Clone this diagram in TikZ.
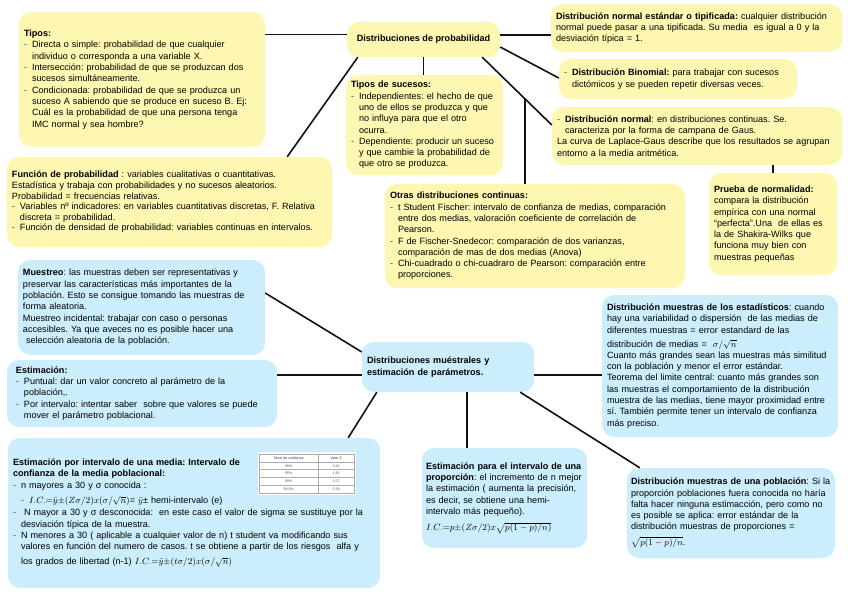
\documentclass[tikz,border=0pt]{standalone}
\usepackage{fontspec}
\setmainfont{Liberation Sans}
\usepackage[table]{xcolor}
\usepackage{amsmath}
\usetikzlibrary{calc}
\definecolor{MapaYellow}{HTML}{FEF7B1}
\definecolor{MapaBlue}{HTML}{CCEEFC}
\definecolor{MapaInk}{HTML}{111111}
\definecolor{MapaHead}{HTML}{1F3864}
\newcommand{\guion}{\makebox[8pt][l]{\textcolor{MapaInk!75}{-}}}
\newcommand{\sangria}{\hspace*{8pt}}

\begin{document}
\begin{tikzpicture}[x=1pt, y=-1pt,
    link/.style={line width=1.6pt, draw=MapaInk},
    ybox/.style={rounded corners=12pt, fill=MapaYellow, align=left, inner xsep=5pt,
      font=\fontsize{9.1}{11.3}\selectfont\frenchspacing},
    bbox/.style={ybox, fill=MapaBlue}
  ]
    \useasboundingbox[fill=white] (0,0) rectangle (848,599);

    % distribuciones de probabilidad
    \node[ybox, align=center, minimum width=153, minimum height=35] (probab) at (423.5,39.5)
      {\textbf{Distribuciones de probabilidad}};
    \node[ybox, minimum width=246, minimum height=135, text width=236] (tipos) at (142,79.5)
      {\textbf{Tipos:}\\
       \guion Directa o simple: probabilidad de que cualquier\\
       \sangria individuo o corresponda a una variable X.\\
       \guion Intersección: probabilidad de que se produzcan dos\\
       \sangria sucesos simultáneamente.\\
       \guion Condicionada: probabilidad de que se produzca un\\
       \sangria suceso A sabiendo que se produce en suceso B. Ej:\\
       \sangria Cuál es la probabilidad de que una persona tenga\\
       \sangria IMC normal y sea hombre?};
    \node[ybox, minimum width=291, minimum height=48, text width=281] (estandar) at (696.5,28)
      {\textbf{Distribución normal estándar o tipificada:} cualquier distribución\\
       normal puede pasar a una tipificada. Su media\ \ es igual a 0 y la\\
       desviación típica = 1.};
    \node[ybox, minimum width=238, minimum height=40, text width=228] (binom) at (678,79)
      {\guion\textbf{Distribución Binomial:} para trabajar con sucesos\\
       \sangria dictómicos y se pueden repetir diversas veces.};
    \node[ybox, minimum width=290, minimum height=58, text width=280] (normal) at (697,136)
      {\guion\textbf{Distribución normal}: en distribuciones continuas. Se.\\
       \sangria caracteriza por la forma de campana de Gaus.\\
       La curva de Laplace-Gaus describe que los resultados se agrupan\\
       entorno a la media aritmética.};
    \node[ybox, minimum width=157, minimum height=100, text width=147] (sucesos) at (424.5,125)
      {\textbf{Tipos de sucesos:}\\
       \guion Independientes: el hecho de que\\
       \sangria uno de ellos se produzca y que\\
       \sangria no influya para que el otro\\
       \sangria ocurra.\\
       \guion Dependiente: producir un suceso\\
       \sangria y que cambie la probabilidad de\\
       \sangria que otro se produzca.};
    \node[ybox, minimum width=325, minimum height=90, text width=315,
      font=\fontsize{9.1}{10.6}\selectfont\frenchspacing] (funcion) at (169.5,202)
      {\textbf{Función de probabilidad} : variables cualitativas o cuantitativas.\\
       Estadística y trabaja con probabilidades y no sucesos aleatorios.\\
       Probabilidad = frecuencias relativas.\\
       \guion Variables nº indicadores: en variables cuantitativas discretas, F. Relativa\\
       \sangria discreta = probabilidad.\\
       \guion Función de densidad de probabilidad: variables continuas en intervalos.};
    \node[ybox, minimum width=300, minimum height=104, text width=290] (otras) at (535,236)
      {\textbf{Otras distribuciones continuas:}\\
       \guion t Student Fischer: intervalo de confianza de medias, comparación\\
       \sangria entre dos medias, valoración coeficiente de correlación de\\
       \sangria Pearson.\\
       \guion F de Fischer-Snedecor: comparación de dos varianzas,\\
       \sangria comparación de mas de dos medias (Anova)\\
       \guion Chi-cuadrado o chi-cuadraro de Pearson: comparación entre\\
       \sangria proporciones.};
    \node[ybox, minimum width=128, minimum height=102, text width=118] (prueba) at (773,224)
      {\textbf{Prueba de normalidad:}\\
       compara la distribución\\
       empírica con una normal\\
       “perfecta”.Una\ \ de ellas es\\
       la de Shakira-Wilks que\\
       funciona muy bien con\\
       muestras pequeñas};

    % distribuciones muestrales
    \node[bbox, minimum width=172, minimum height=50, text width=162] (central) at (448,367)
      {\textbf{Distribuciones muéstrales y}\\
       \textbf{estimación de parámetros.}};
    \node[bbox, minimum width=247, minimum height=95, text width=237] (muestreo) at (141.5,307.5)
      {\textbf{Muestreo}: las muestras deben ser representativas y\\
       preservar las características más importantes de la\\
       población. Esto se consigue tomando las muestras de\\
       forma aleatoria.\\
       Muestreo incidental: trabajar con caso o personas\\
       accesibles. Ya que aveces no es posible hacer una\\
       \ selección aleatoria de la población.};
    \node[bbox, minimum width=270, minimum height=67, text width=252, inner xsep=9pt] (estim) at (142,393.5)
      {\textbf{Estimación:}\\
       \guion Puntual: dar un valor concreto al parámetro de la\\
       \sangria población,.\\
       \guion Por intervalo: intentar saber\ \ sobre que valores se puede\\
       \sangria mover el parámetro poblacional.};
    \node[bbox, minimum width=236, minimum height=142, text width=226] (estad) at (720,366)
      {\textbf{Distribución muestras de los estadísticos}: cuando\\
       hay una variabilidad o dispersión\ \ de las medias de\\
       diferentes muestras = error estandard de las\\[2.5pt]
       distribución de medias = \ $\sigma/\sqrt{n}$\\
       Cuanto más grandes sean las muestras más similitud\\
       con la población y menor el error estándar.\\
       Teorema del limite central: cuanto más grandes son\\
       las muestras el comportamiento de la distribución\\
       muestra de las medias, tiene mayor proximidad entre\\
       sí. También permite tener un intervalo de confianza\\
       más preciso.};
    \node[bbox, minimum width=372, minimum height=150, text width=362] (media) at (194,513)
      {\textbf{Estimación por intervalo de una media: Intervalo de}\\
       \textbf{confianza de la media poblacional:}\\
       \guion n mayores a 30 y σ conocida :\\[4pt]
       \sangria\guion $I.C.{=}\bar{y}{\pm}(Z\sigma/2)x(\sigma/\sqrt{n})$= $\bar{y}$± hemi-intervalo (e)\\[1pt]
       \guion\ N mayor a 30 y σ desconocida:\ \ en este caso el valor de sigma se sustituye por la\\
       \sangria desviación típica de la muestra.\\
       \guion N menores a 30 ( aplicable a cualquier valor de n) t student va modificando sus\\
       \sangria valores en función del numero de casos. t se obtiene a partir de los riesgos\ \ alfa y\\[4pt]
       \sangria los grados de libertad (n-1) $I.C.{=}\bar{y}{\pm}(t\sigma/2)x(\sigma/\sqrt{n})$};
    \node[fill=white, inner sep=1.5pt, font=\fontsize{3.6}{7.4}\selectfont] (tabla) at (307,473.5)
      {\arrayrulecolor{MapaInk!35}\setlength{\tabcolsep}{0pt}%
       \begin{tabular}{|c|c|}\hline
       \makebox[58pt]{\textcolor{MapaHead}{Nivel de confianza}} & \makebox[36pt]{\textcolor{MapaHead}{Valor Z}}\\\hline
       \textcolor{MapaInk!70}{90\%} & \textcolor{MapaInk!70}{1,64}\\\hline
       \textcolor{MapaInk!70}{95\%} & \textcolor{MapaInk!70}{1,96}\\\hline
       \textcolor{MapaInk!70}{99\%} & \textcolor{MapaInk!70}{2,57}\\\hline
       \textcolor{MapaInk!70}{99,9\%} & \textcolor{MapaInk!70}{3,29}\\\hline
       \end{tabular}};
    \node[bbox, minimum width=165, minimum height=100, text width=157, inner xsep=4pt] (propor) at (504.5,498)
      {\textbf{Estimación para el intervalo de una}\\
       \textbf{proporción}: el incremento de n mejor\\
       la estimación ( aumenta la precisión,\\
       es decir, se obtiene una hemi-\\
       intervalo más pequeño).\\[5pt]
       $I.C.{=}p{\pm}(Z\sigma/2)x\sqrt{p(1-p)/n)}$};
    \node[bbox, minimum width=208, minimum height=90, text width=200, inner xsep=4pt] (poblac) at (731,513)
      {\textbf{Distribución muestras de una población}: Si la\\
       proporción poblaciones fuera conocida no haría\\
       falta hacer ninguna estimacción, pero como no\\
       es posible se aplica: error estándar de la\\
       distribución muestras de proporciones =\\[4pt]
       $\sqrt{p(1-p)/n}$.};

    % conexiones
    \draw[link] ($(probab.west)+(0,-5)$) coordinate (a1) -- (a1 -| tipos.east);
    \draw[link] ($(probab.east)+(0,-4.5)$) coordinate (a2) -- (a2 -| estandar.west);
    \draw[link] ($(probab.east)+(0,7.5)$) -- ($(binom.west)+(0,-1)$);
    \draw[link] ($(probab.south east)+(-18,0)$) -- coordinate[pos=0.614] (codo) ($(normal.west)+(0,-11)$);
    \draw[link] (codo) -- (codo |- otras.north);
    \draw[link] (probab.south) -- (probab.south |- sucesos.north);
    \draw[link] ($(probab.south west)+(11,0)$) -- ($(funcion.north east)+(-45,0)$);
    \draw[link] (prueba.north) -- (prueba.north |- normal.south);

    \draw[link] ($(central.west)+(0,-15)$) -- ($(muestreo.east)+(0,-14.5)$);
    \draw[link] ($(central.west)+(0,8)$) coordinate (b2) -- (b2 -| estim.east);
    \draw[link] ($(central.east)+(0,8)$) coordinate (b3) -- (b3 -| estad.west);
    \draw[link] ($(central.south west)+(15,0)$) -- ($(media.north east)+(-32,0)$);
    \draw[link] ($(propor.north)+(-37.5,0)$) coordinate (b5) -- (b5 |- central.south);
    \draw[link] ($(central.south east)+(-14,0)$) -- ($(poblac.north west)+(13,0)$);
  \end{tikzpicture}
\end{document}
